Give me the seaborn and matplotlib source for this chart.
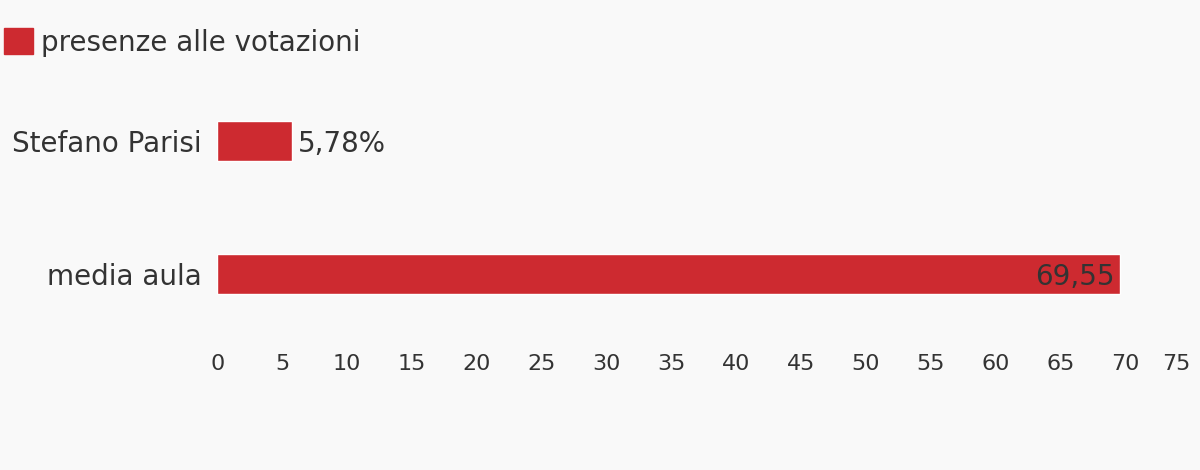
import matplotlib
matplotlib.use("Agg")
import matplotlib.pyplot as plt
import matplotlib.patches as mpatches
import seaborn as sns
import pandas as pd

categorie = ["Stefano Parisi", "media aula"]
presenze = [5.78, 69.55]
etichette = ["5,78%", "69,55"]
serie = "presenze alle votazioni"

rosso = "#cd2a30"
testo = "#333333"
sfondo = "#f9f9f9"

sns.set_theme(style="white")
plt.rcParams["font.family"] = ["DejaVu Sans"]

df = pd.DataFrame({"categoria": categorie, "valore": presenze})

fig = plt.figure(figsize=(12, 4.7), dpi=100, facecolor=sfondo)
ax = fig.add_axes([0.181, 0.2766, 0.811, 0.5106], facecolor=sfondo)

sns.barplot(data=df, x="valore", y="categoria", color=rosso, width=0.3,
            saturation=1, ax=ax)

ax.set_xlim(0, 75)
ax.set_ylim(1.496, -0.308)
ax.set_xticks(range(0, 80, 5))
ax.set_xlabel("")
ax.set_ylabel("")
sns.despine(ax=ax, left=True, bottom=True)
ax.tick_params(axis="x", length=0, pad=10, labelsize=16, labelcolor=testo)
ax.tick_params(axis="y", length=0, pad=11, labelsize=20, labelcolor=testo)
ax.get_xticklabels()[-1].set_horizontalalignment("right")

# etichette dei valori
ax.text(presenze[0] + 0.45, 0.02, etichette[0], va="center", ha="left",
        fontsize=20, color=testo)
ax.text(presenze[1] - 0.4, 1.02, etichette[1], va="center", ha="right",
        fontsize=20, color=testo)

fig.legend(handles=[mpatches.Patch(color=rosso, label=serie)],
           loc="upper left", bbox_to_anchor=(0.0033, 0.94), frameon=False,
           fontsize=20, labelcolor=testo, handlelength=1.05, handleheight=1.05,
           handletextpad=0.3, borderaxespad=0, borderpad=0)

fig.savefig("out.png", dpi=100, facecolor=sfondo)
